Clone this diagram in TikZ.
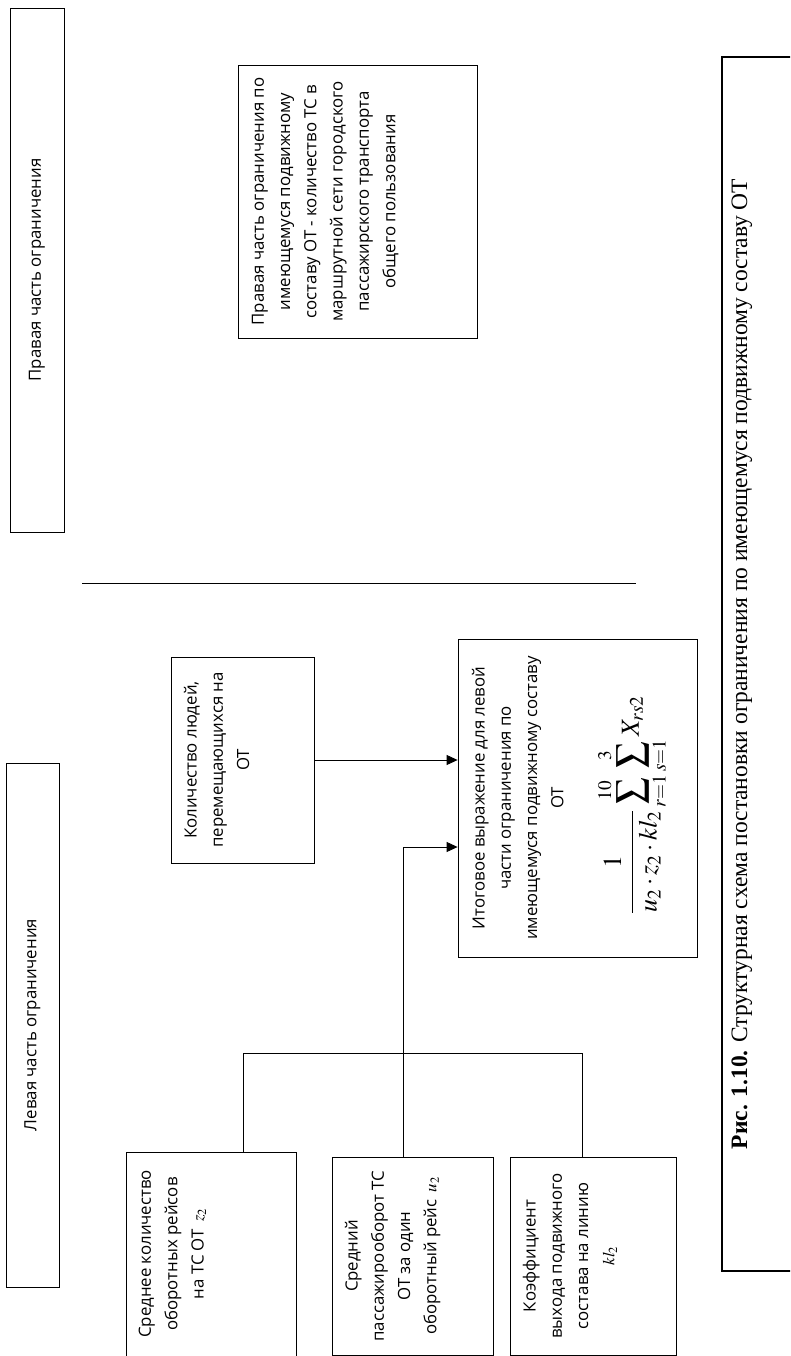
\documentclass[tikz,border=0pt]{standalone}
\usepackage{mathptmx}
\usepackage{fontspec}
\setmainfont{Liberation Serif}
\newfontfamily\sansf{Open Sans}
\usetikzlibrary{arrows.meta}
\tikzset{
  box/.style={draw, line width=0.8pt, inner sep=0pt, fill=none},
  txt/.style={rotate=90, anchor=north, align=center, inner sep=0pt,
    font=\sansf\fontsize{16.8}{26.3}\selectfont},
  head/.style={rotate=90, inner sep=0pt, font=\sansf\fontsize{16.8}{26}\selectfont},
  arr/.style={line width=0.8pt, -{Triangle[length=11pt,width=10pt]}},
  conn/.style={line width=0.8pt}
}
\begin{document}
\begin{tikzpicture}[x=1pt,y=-1pt]
\useasboundingbox (0,0) rectangle (790,1356);
\clip (0,0) rectangle (790,1356);
% header boxes
\node[box, minimum width=54, minimum height=524] (rh) at (37,270) {};
\node[head] (rht) at (rh.center) {Правая часть ограничения};
\node[box, minimum width=53, minimum height=524] (lh) at (32.5,1025) {};
\node[head] (lht) at (lh.center) {Левая часть ограничения};
% divider
\draw[conn] (82,583) -- (636,583);
% right part box
\node[box, minimum width=239, minimum height=273] (rt) at (357.5,201.5) {};
\node[txt] (rtt) at ([xshift=14pt]rt.west) {Правая часть ограничения по\\имеющемуся подвижному\\составу ОТ - количество ТС в\\маршрутной сети городского\\пассажирского транспорта\\общего пользования};
% people count
\node[box, minimum width=143, minimum height=206] (k) at (242.5,760) {};
\node[txt] (kt) at ([xshift=13pt]k.west) {Количество людей,\\перемещающихся на\\ОТ};
% result
\node[box, minimum width=239, minimum height=318] (r) at (577.5,798) {};
\node[txt] (rtx) at ([xshift=14pt]r.west) {Итоговое выражение для левой\\части ограничения по\\имеющемуся подвижному составу\\ОТ};
\node[rotate=90, inner sep=0pt, font=\fontsize{26}{30}\selectfont] (formula) at (632,805)
  {$\displaystyle \frac{1}{u_2\cdot z_2\cdot kl_2}\sum_{r=1}^{10}\sum_{s=1}^{3}X_{rs2}$};
% lower boxes
\node[box, minimum width=170, minimum height=204] (b1) at (211,1254) {};
\node[txt] (b1t) at ([xshift=13pt]b1.west) {Среднее количество\\оборотных рейсов\\на ТС ОТ \,$z_{2}$};
\node[box, minimum width=161, minimum height=198] (b2) at (412.5,1256) {};
\node[txt] (b2t) at ([xshift=13pt]b2.west) {Средний\\пассажирооборот ТС\\ОТ за один\\оборотный рейс \,$u_{2}$};
\node[box, minimum width=166, minimum height=198] (b3) at (593,1256) {};
\node[txt] (b3t) at ([xshift=13pt]b3.west) {Коэффициент\\выхода подвижного\\состава на линию\\$kl_{2}$};
% connectors
\coordinate (jl) at (243,1053);
\coordinate (jr) at (582,1053);
\coordinate (jm) at (403,847);
\draw[conn] (b1.north -| jl) -- (jl) -- (jr) -- (b3.north -| jr);
\draw[arr] (b2.north -| jm) -- (jm) -- (jm -| r.west);
\draw[arr] (k.east) -- (k.east -| r.west);
% caption
\node[draw, line width=1.6pt, minimum width=140, minimum height=1214, inner sep=0pt] (cb) at (792,664) {};
\node[rotate=90, anchor=base, inner sep=0pt, font=\fontsize{23.5}{28}\selectfont] (cap) at (747,664)
  {\textbf{Рис. 1.10.} Структурная схема постановки ограничения по имеющемуся подвижному составу ОТ};
\end{tikzpicture}
\end{document}
